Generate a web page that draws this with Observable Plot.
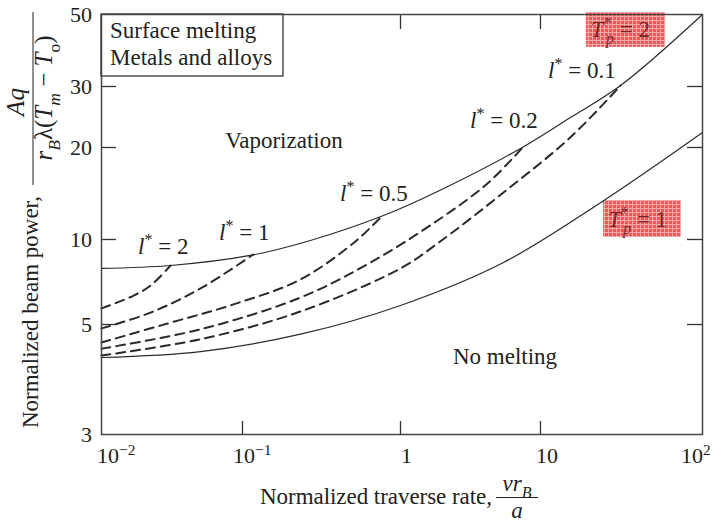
<!DOCTYPE html>
<html><head><meta charset="utf-8">
<script src="https://cdn.jsdelivr.net/npm/d3@7"></script>
<script src="https://cdn.jsdelivr.net/npm/@observablehq/plot@0.6"></script>
<style>body{margin:0;background:#fff}svg{display:block}</style>
</head><body><div id="chart"></div>
<script>
// ---- axis ticks ----
const xTicks = [0.01, 0.1, 1, 10, 100];
const xTickBase = ["10", "10", "1", "10", "10"];
const xTickExp = ["−2", "−1", "", "", "2"];
const yTicks = [3, 5, 10, 20, 30, 50];
const yTickLabels = ["3", "5", "10", "20", "30", "50"];

// ---- solid boundaries ----
const tp2X = [0.01, 0.0309, 0.112, 0.269, 0.78, 1.84, 7.2, 15.3, 31.2, 100];
const tp2Y = [7.90, 8.09, 8.78, 9.92, 11.98, 14.36, 19.85, 24.4, 30.2, 50];
const tp1X = [0.01, 0.0504, 0.233, 1, 5.44, 24.5, 100];
const tp1Y = [4.29, 4.41, 4.78, 5.84, 8.29, 13.4, 22.1];

// ---- dashed l* curves ----
const l2X = [0.01, 0.0169, 0.0223, 0.0309];
const l2Y = [5.70, 6.33, 6.87, 8.09];
const l1X = [0.01, 0.0223, 0.0504, 0.117];
const l1Y = [4.91, 5.51, 6.71, 8.85];
const l05X = [0.01, 0.0294, 0.0863, 0.233, 0.527, 0.758];
const l05Y = [4.60, 5.04, 5.89, 7.22, 9.92, 11.9];
const l02X = [0.01, 0.0504, 0.233, 0.646, 1.838, 4.18, 7.56];
const l02Y = [4.47, 4.89, 6.23, 8.29, 11.54, 15.25, 20.13];
const l01X = [0.01, 0.0504, 0.233, 1, 1.838, 5.44, 15.3, 31.2];
const l01Y = [4.33, 4.67, 5.56, 7.90, 9.68, 14.25, 21.4, 30.2];

const series = [
  {name: "Tp*=2", dashed: false, xs: tp2X, ys: tp2Y},
  {name: "Tp*=1", dashed: false, xs: tp1X, ys: tp1Y},
  {name: "l*=2", dashed: true, xs: l2X, ys: l2Y},
  {name: "l*=1", dashed: true, xs: l1X, ys: l1Y},
  {name: "l*=0.5", dashed: true, xs: l05X, ys: l05Y},
  {name: "l*=0.2", dashed: true, xs: l02X, ys: l02Y},
  {name: "l*=0.1", dashed: true, xs: l01X, ys: l01Y}
];
const rows = series.flatMap(s => s.xs.map((x, i) => ({name: s.name, dashed: s.dashed, x, y: s.ys[i]})));

// ---- annotations (data coordinates) ----
const regionLabels = [
  {x: 0.076, y: 19.9, parts: [["Vaporization"]]},
  {x: 2.39, y: 4.144, parts: [["No melting"]]},
  {x: 0.01158, y: 42.2, parts: [["Surface melting"]]},
  {x: 0.01158, y: 34.8, parts: [["Metals and alloys"]]},
  {x: 0.0183, y: 8.85, parts: [["l","i"],["*","p"],[" = 2"]]},
  {x: 0.0687, y: 9.92, parts: [["l","i"],["*","p"],[" = 1"]]},
  {x: 0.4171, y: 13.32, parts: [["l","i"],["*","p"],[" = 0.5"]]},
  {x: 3.162, y: 22.7, parts: [["l","i"],["*","p"],[" = 0.2"]]},
  {x: 11.21, y: 31.76, parts: [["l","i"],["*","p"],[" = 0.1"]]},
  {x: 20.6, y: 42.5, parts: [["T","i"],["*","p"],["p","ibs"],[" = 2"]], red: true},
  {x: 26.3, y: 10.95, parts: [["T","i"],["*","p"],["p","ibs"],[" = 1"]], red: true}
];
const legendBox = [{x1: 0.01, x2: 0.1817, y1: 32.2, y2: 50}];
const redBoxes = [
  {x1: 19.2, x2: 59.2, y1: 39.6, y2: 50.7},
  {x1: 24.5, x2: 74.1, y1: 10.15, y2: 13.42}
];

const xRange = [101, 242, 400, 540, 702];
const yRange = [434, 324, 239, 147, 86, 14];
const FS = 23;
const TFS = 22;
const INK = "#2a2a2a";

const chart = Plot.plot({
  width: 712, height: 522,
  marginLeft: 101, marginRight: 10, marginTop: 14, marginBottom: 88,
  style: {fontFamily: "'Liberation Serif', 'Times New Roman', serif", fontSize: FS + "px", background: "#fff"},
  x: {type: "log", domain: xTicks, range: xRange, axis: null},
  y: {type: "log", domain: yTicks, range: yRange, axis: null},
  marks: [
    Plot.rect(redBoxes, {x1: "x1", x2: "x2", y1: "y1", y2: "y2", fill: "url(#redhatch)"}),
    Plot.line(rows.filter(d => !d.dashed), {x: "x", y: "y", z: "name", stroke: INK, strokeWidth: 1.2, curve: "catmull-rom"}),
    Plot.line(rows.filter(d => d.dashed), {x: "x", y: "y", z: "name", stroke: INK, strokeWidth: 2, strokeDasharray: "9,6", curve: "catmull-rom"}),
    Plot.rect(legendBox, {x1: "x1", x2: "x2", y1: "y1", y2: "y2", fill: "white", stroke: "#333", strokeWidth: 1.3}),
    Plot.ruleX([0.1, 1, 10], {x: d => d, insetTop: 420 - 13, stroke: "#333", strokeWidth: 1.3}),
    Plot.ruleX([1, 10], {x: d => d, insetBottom: 420 - 15, stroke: "#333", strokeWidth: 1.3}),
    Plot.ruleY([5, 10, 20, 30], {y: d => d, insetRight: 601 - 15, stroke: "#333", strokeWidth: 1.3}),
    Plot.ruleY([5, 10, 20, 30], {y: d => d, insetLeft: 601 - 15, stroke: "#333", strokeWidth: 1.3}),
    Plot.frame({stroke: "#444", strokeWidth: 1.5})
  ]
});
document.getElementById("chart").append(chart);

const svg = d3.select(chart);
const sx = chart.scale("x"), sy = chart.scale("y");

// red hatch pattern
const pat = svg.insert("defs", ":first-child").append("pattern")
  .attr("id", "redhatch").attr("width", 4).attr("height", 4).attr("patternUnits", "userSpaceOnUse");
pat.append("rect").attr("width", 4).attr("height", 4).attr("fill", "#f25757");
pat.append("path").attr("d", "M0,0.5H4M0.5,0V4").attr("stroke", "#f9a8a8").attr("stroke-width", 1);

const g = svg.append("g").attr("font-family", "'Liberation Serif', 'Times New Roman', serif")
  .attr("font-size", FS).attr("fill", "#222").attr("text-anchor", "start");

function rich(parent, x, y, parts, opts = {}) {
  const fs = opts.fs || FS;
  const t = parent.append("text").attr("x", x).attr("y", y).attr("font-size", fs)
    .attr("text-anchor", opts.anchor || "start");
  if (opts.rotate) t.attr("transform", `rotate(${opts.rotate},${x},${y})`);
  if (opts.fill) t.attr("fill", opts.fill);
  if (opts.len) t.attr("textLength", opts.len).attr("lengthAdjust", "spacing");
  let off = 0;
  for (const [s, st = ""] of parts) {
    const sub = st.includes("b"), sup = st.includes("p"), it = st.includes("i"), stack = st.includes("s");
    const target = sub ? 0.3 * fs : sup ? -0.38 * fs : 0;
    const ts = t.append("tspan").text(s);
    if (it) ts.attr("font-style", "italic");
    if (sub || sup) ts.attr("font-size", 0.7 * fs);
    if (stack) ts.attr("dx", -0.36 * 0.7 * fs);
    if (target !== off) { ts.attr("dy", target - off); off = target; }
  }
  return t;
}

// x tick labels
const xLabelDx = [-4, -9, 1, -4, -21];
xTicks.forEach((v, i) => {
  const parts = [[xTickBase[i]]];
  if (xTickExp[i]) parts.push([xTickExp[i], "p"]);
  rich(g, sx.apply(v) + xLabelDx[i], 463, parts, {fs: TFS});
});
// y tick labels
yTicks.forEach((v, i) => {
  rich(g, 92, sy.apply(v) + 7.5, [[yTickLabels[i]]], {fs: TFS, anchor: "end"});
});

// annotations
regionLabels.forEach(d => {
  rich(g, sx.apply(d.x), sy.apply(d.y), d.parts, d.red ? {fill: "#7a2525"} : {});
});

// x axis title
rich(g, 260, 504, [["Normalized traverse rate,"]], {len: 232});
rich(g, 517, 491, [["vr", "i"], ["B", "ib"]], {anchor: "middle"});
g.append("line").attr("x1", 496).attr("x2", 538).attr("y1", 497.5).attr("y2", 497.5).attr("stroke", "#222").attr("stroke-width", 1);
rich(g, 517, 518, [["a", "i"]], {anchor: "middle"});

// y axis title (rotated)
rich(g, 38, 312, [["Normalized beam power,"]], {anchor: "middle", rotate: -90});
rich(g, 24, 102, [["Aq", "i"]], {anchor: "middle", rotate: -90, fs: 25});
g.append("line").attr("x1", 33).attr("x2", 33).attr("y1", 12).attr("y2", 185).attr("stroke", "#222").attr("stroke-width", 1);
rich(g, 52, 98, [["r", "i"], ["B", "ib"], ["λ("], ["T", "i"], ["m", "ib"], [" − "], ["T", "i"], ["o", "b"], [")"]], {anchor: "middle", rotate: -90, fs: 25});
</script>
</body></html>
